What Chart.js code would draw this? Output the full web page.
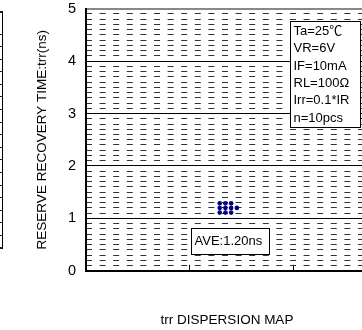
<!DOCTYPE html>
<html>
<head>
<meta charset="utf-8">
<script src="https://cdn.jsdelivr.net/npm/chart.js@4"></script>
<style>
  html, body { margin: 0; padding: 0; background: #fff; overflow: hidden; }
  #wrap { position: relative; width: 362px; height: 330px; overflow: hidden; }
  #left-box { position: absolute; left: -97px; top: 0; width: 100px; height: 330px; }
  #main-box { position: absolute; left: 0; top: 0; width: 454px; height: 330px; }
</style>
</head>
<body>
<div id="wrap">
  <div id="left-box"><canvas id="left-chart"></canvas></div>
  <div id="main-box"><canvas id="trr-chart"></canvas></div>
</div>
<script>
// trr dispersion data (10 pcs)
const samplePos = [1.29, 1.29, 1.29, 1.345, 1.345, 1.345, 1.40, 1.40, 1.40, 1.455];
const trrValues = [1.29, 1.20, 1.11, 1.29, 1.20, 1.11, 1.29, 1.20, 1.11, 1.20];

const yRange = [0, 5];
const yMajorStep = 1;
const yMinorStep = 0.1;
const xRange = [0, 3];
const xStep = 1;

const conditions = ['Ta=25\u2103', 'VR=6V', 'IF=10mA', 'RL=100\u03A9', 'Irr=0.1*IR', 'n=10pcs'];
const averageLabel = 'AVE:1.20ns';

// neighbour chart, only its right edge is in the picture
const leftRange = [0, 75];
const leftStep = 4;

Chart.defaults.font.family = '"Liberation Sans", Arial, sans-serif';
Chart.defaults.color = '#000';

const isMajor = v => Math.abs(v / yMajorStep - Math.round(v / yMajorStep)) < 1e-6;

// text boxes on top of the grid
const noteBoxes = {
    id: 'noteBoxes',
    afterDatasetsDraw(chart) {
        const { ctx, scales: { x, y } } = chart;
        ctx.save();
        ctx.font = '13px "Liberation Sans", "Noto Sans CJK JP", sans-serif';
        ctx.textBaseline = 'middle';
        ctx.lineWidth = 1;
        ctx.strokeStyle = '#000';

        // test conditions
        const cx = Math.round(x.getPixelForValue(2)) - 2.5;
        const cy = Math.round(y.getPixelForValue(4.77)) + 0.5;
        ctx.fillStyle = '#fff';
        ctx.fillRect(cx, cy, 70, 106);
        ctx.strokeRect(cx, cy, 70, 106);
        ctx.fillStyle = '#000';
        conditions.forEach((line, i) => {
            ctx.fillText(line, cx + 3, cy + 10 + i * 17.3);
        });

        // average
        const ax = Math.round(x.getPixelForValue(1)) + 1.5;
        const ay = Math.round(y.getPixelForValue(0.81)) + 0.5;
        ctx.fillStyle = '#fff';
        ctx.fillRect(ax, ay, 78, 26);
        ctx.strokeRect(ax, ay, 78, 26);
        ctx.fillStyle = '#000';
        ctx.fillText(averageLabel, ax + 3, ay + 13);
        ctx.restore();
    }
};

new Chart(document.getElementById('trr-chart'), {
    type: 'scatter',
    data: {
        datasets: [{
            data: samplePos.map((p, i) => ({ x: p, y: trrValues[i] })),
            backgroundColor: '#000080',
            borderColor: '#000080',
            borderWidth: 0,
            pointRadius: 2.3
        }]
    },
    options: {
        responsive: true,
        maintainAspectRatio: false,
        animation: false,
        layout: { padding: { left: 0, top: 0, right: 0, bottom: 0 } },
        plugins: {
            legend: { display: false },
            tooltip: { enabled: false },
            title: {
                display: true,
                position: 'bottom',
                text: 'trr DISPERSION MAP',
                color: '#000',
                font: { size: 13.5, weight: 'normal' },
                padding: { top: 0, bottom: 2 }
            }
        },
        scales: {
            x: {
                type: 'linear',
                min: xRange[0],
                max: xRange[1],
                afterFit(s) { s.height = 41; },
                ticks: { display: false, stepSize: xStep },
                grid: { drawOnChartArea: false, drawTicks: true, tickLength: -6, tickColor: '#000', tickWidth: 1 },
                border: { color: '#000', width: 2 }
            },
            y: {
                position: 'left',
                min: yRange[0],
                max: yRange[1],
                afterFit(s) { s.width = 86; },
                ticks: { stepSize: yMajorStep, padding: 0, font: { size: 14.5 }, color: '#000' },
                grid: {
                    drawTicks: true,
                    tickLength: 10,
                    tickColor: 'rgba(0,0,0,0)',
                    color: c => (c.tick && c.tick.value === yRange[1]) ? '#888' : '#000',
                    lineWidth: c => (c.tick && (c.tick.value === yRange[1] || c.tick.value === yRange[0])) ? 2 : 1
                },
                border: { color: '#000', width: 2 },
                title: {
                    display: true,
                    text: 'RESERVE RECOVERY TIME:trr(ns)',
                    color: '#000',
                    font: { size: 13.5 },
                    padding: { top: 34, bottom: 0 }
                }
            },
            yMinor: {
                position: 'right',
                min: yRange[0],
                max: yRange[1],
                afterFit(s) { s.width = 57; },
                ticks: { display: false, stepSize: yMinorStep },
                grid: {
                    drawTicks: false,
                    color: c => (c.tick && isMajor(c.tick.value)) ? 'rgba(0,0,0,0)' : '#333',
                    lineWidth: 1
                },
                border: { display: false, dash: [6, 7.6] }
            }
        }
    },
    plugins: [noteBoxes]
});

new Chart(document.getElementById('left-chart'), {
    type: 'scatter',
    data: { datasets: [{ data: [] }] },
    options: {
        responsive: true,
        maintainAspectRatio: false,
        animation: false,
        layout: { padding: { left: 0, right: 0, top: 12, bottom: 82 } },
        plugins: { legend: { display: false }, tooltip: { enabled: false } },
        scales: {
            x: { display: false },
            y: {
                position: 'right',
                min: leftRange[0],
                max: leftRange[1],
                ticks: { display: false, stepSize: leftStep },
                grid: {
                    drawTicks: false,
                    color: '#222',
                    lineWidth: c => (c.tick && (c.tick.value === leftRange[0] || c.tick.value === leftRange[1])) ? 2 : 1
                },
                border: { color: '#000', width: 2 }
            }
        }
    }
});
</script>
</body>
</html>
